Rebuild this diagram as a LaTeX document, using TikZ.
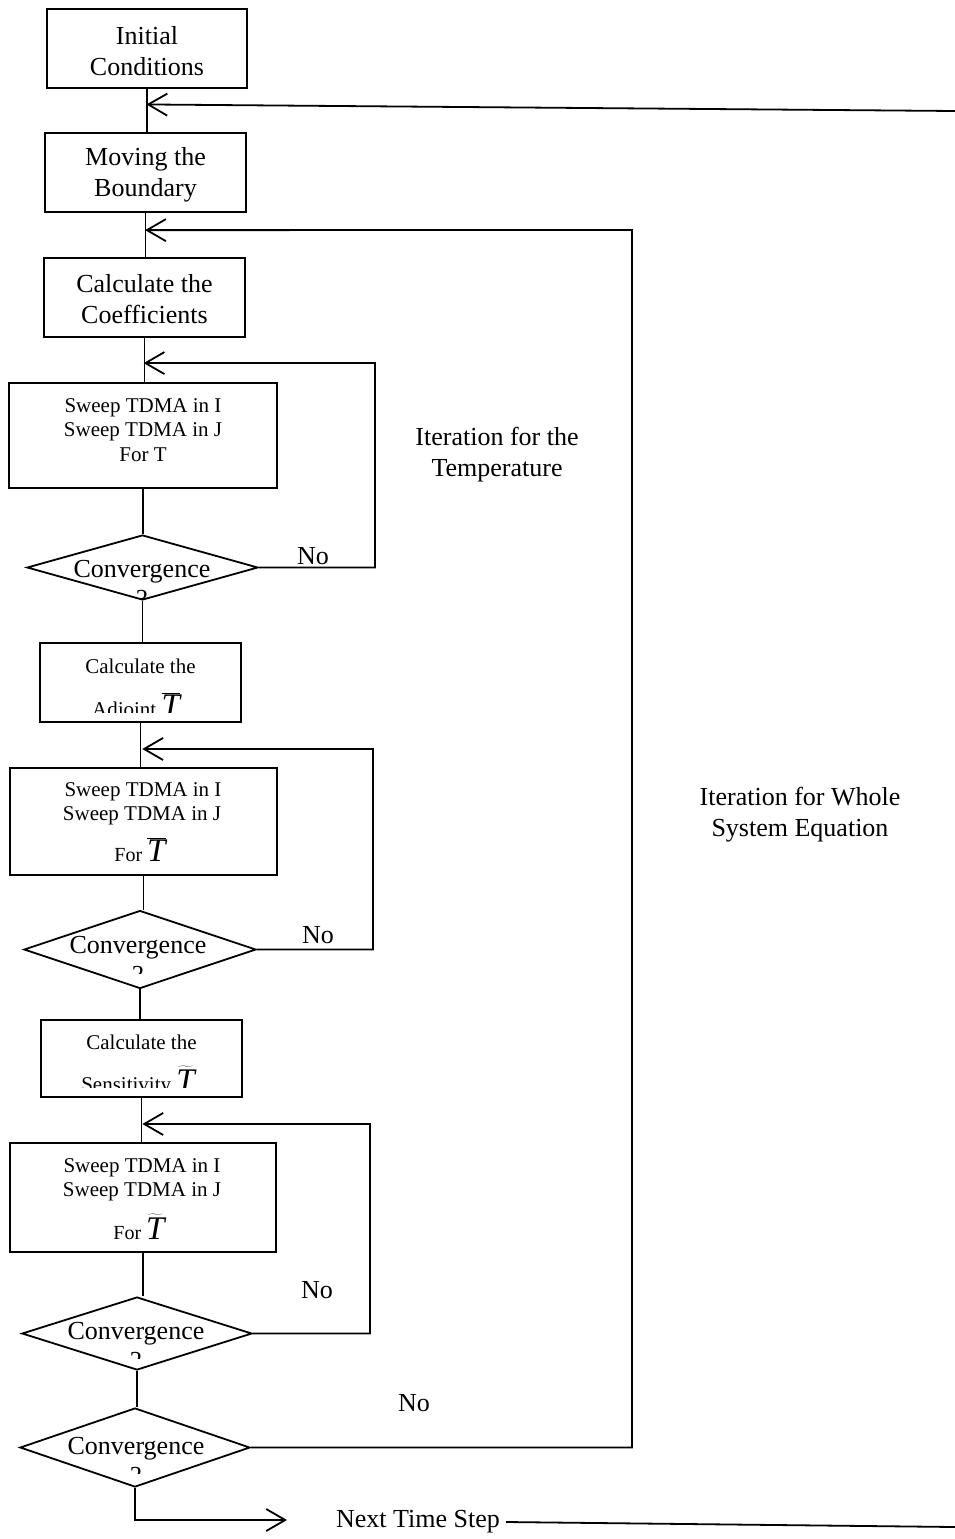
\documentclass[tikz,border=0pt]{standalone}
\usepackage{fontspec}
\setmainfont{Liberation Serif}
\usetikzlibrary{shapes.geometric,arrows.meta,calc}
\newcommand\myTbar{{\fontsize{33}{33}\selectfont$\smash{\overline{\textit{T}}}$}}
\newcommand\myTtil{{\fontsize{33}{33}\selectfont$\smash{\widetilde{\textit{T}}}$}}
\tikzset{
  box/.style={draw, line width=1.8pt, inner sep=0pt, align=center},
  dia/.style={draw, diamond, line width=1.8pt, inner sep=0pt},
  big/.style={font=\fontsize{26}{31}\selectfont},
  small/.style={font=\fontsize{21}{24.5}\selectfont},
  accent/.style={inner sep=0pt, anchor=base, font=\fontsize{20}{20}\selectfont},
  conn/.style={line width=1.8pt},
  barb/.style={conn, -{Straight Barb[length=19pt,width=22pt]}},
}
\begin{document}
\begin{tikzpicture}[x=1pt,y=-1pt]
\useasboundingbox (0,0) rectangle (955,1539);

% boxes
\node[box,minimum width=200pt,minimum height=79pt] (b1) at (147,48.5) {};
\node[big,align=center] (t1) at (147,51) {Initial\\Conditions};
\node[box,minimum width=201pt,minimum height=79pt] (b2) at (145.5,172.5) {};
\node[big,align=center] (t2) at (145.5,175) {Moving the\\Boundary};
\node[box,minimum width=201pt,minimum height=79pt] (b3) at (144.5,297.5) {};
\node[big,align=center] (t3) at (144.5,299.5) {Calculate the\\Coefficients};
\node[box,minimum width=268pt,minimum height=105pt] (b4) at (143,435.5) {};
\node[small,align=center] (t4) at (143,430) {Sweep TDMA in I\\Sweep TDMA in J\\For T};
\node[dia,minimum width=231pt,minimum height=65pt] (d1) at (142.5,567.5) {};
\node[box,minimum width=201pt,minimum height=79pt] (b5) at (140.5,682.5) {};
\node[box,minimum width=267pt,minimum height=107pt] (b6) at (143.5,821.5) {};
\node[small] (t6a) at (143,792) {Sweep TDMA in I};
\node[small] (t6b) at (142,816) {Sweep TDMA in J};
\node[accent] (t6c) at (140,861) {For \myTbar};
\node[dia,minimum width=232pt,minimum height=78pt] (d2) at (140,949.5) {};
\node[box,minimum width=201pt,minimum height=77pt] (b7) at (141.5,1058.5) {};
\node[box,minimum width=266pt,minimum height=109pt] (b8) at (143,1197.5) {};
\node[small] (t8a) at (142,1168) {Sweep TDMA in I};
\node[small] (t8b) at (142,1192) {Sweep TDMA in J};
\node[accent] (t8c) at (139,1239) {For \myTtil};
\node[dia,minimum width=230pt,minimum height=73pt] (d3) at (137,1333.5) {};
\node[dia,minimum width=230pt,minimum height=79pt] (d4) at (135,1447.5) {};

% clipped texts of box 5 and box 7
\begin{scope}
  \clip (b5.north west) rectangle ([yshift=10pt]b5.south east);
  \node[small,anchor=base] (t5a) at (140.5,673) {Calculate the};
  \node[small,anchor=base,inner sep=0pt] (t5b) at (136,716) {Adjoint \myTbar};
\end{scope}
\begin{scope}
  \clip (b7.north west) rectangle ([yshift=10.5pt]b7.south east);
  \node[small,anchor=base] (t7a) at (141.5,1049) {Calculate the};
  \node[small,anchor=base,inner sep=0pt] (t7b) at (138,1091) {Sensitivity \myTtil};
\end{scope}

% diamond texts (question mark clipped)
\begin{scope}
  \clip (0,0) rectangle (400,598);
  \node[big,anchor=base] (c1) at (142,577) {Convergence};
  \node[big,anchor=base] (q1) at (142,607) {?};
\end{scope}
\begin{scope}
  \clip (0,600) rectangle (400,973);
  \node[big,anchor=base] (c2) at (138,953) {Convergence};
  \node[big,anchor=base] (q2) at (138,983) {?};
\end{scope}
\begin{scope}
  \clip (0,1000) rectangle (400,1358);
  \node[big,anchor=base] (c3) at (136,1339) {Convergence};
  \node[big,anchor=base] (q3) at (136,1369) {?};
\end{scope}
\begin{scope}
  \clip (0,1380) rectangle (400,1473);
  \node[big,anchor=base] (c4) at (136,1454) {Convergence};
  \node[big,anchor=base] (q4) at (136,1484) {?};
\end{scope}

% vertical connectors
\draw[conn] (b1.south) -- (b1.south |- b2.north);
\draw[conn] (b2.south) -- (b2.south |- b3.north);
\draw[conn] (b3.south) -- (b3.south |- b4.north);
\draw[conn] (b4.south) -- (b4.south |- d1.north);
\draw[conn] (d1.south) -- (d1.south |- b5.north);
\draw[conn] (b5.south) -- (b5.south |- b6.north);
\draw[conn] (b6.south) -- (b6.south |- d2.north);
\draw[conn] (d2.south) -- (d2.south |- b7.north);
\draw[conn] (b7.south) -- (b7.south |- b8.north);
\draw[conn] (b8.south) -- (b8.south |- d3.north);
\draw[conn] (d3.south) -- (d3.south |- d4.north);

% junction points
\coordinate (j1) at ($(b1.south)!0.36!(b2.north)$);
\coordinate (j2) at ($(b2.south)!0.39!(b3.north)$);
\coordinate (j3) at ($(b3.south)!0.57!(b4.north)$);
\coordinate (j4) at ($(b5.south)!0.59!(b6.north)$);
\coordinate (j5) at ($(b7.south)!0.59!(b8.north)$);

% loop corners
\coordinate (r1) at (375,363);
\coordinate (r2) at (373,749);
\coordinate (r3) at (370,1124);
\coordinate (r4) at (632,230);

\draw[barb] (d1.east) -| (r1) -- (j3);
\draw[barb] (d2.east) -| (r2) -- (j4);
\draw[barb] (d3.east) -| (r3) -- (j5);
\draw[barb] (d4.east) -| (r4) -- (j2);

% next time step
\coordinate (e1) at (955,111);
\draw[barb] (e1) -- (j1);
\coordinate (a5) at (287,1520);
\draw[barb] (d4.south) |- (a5);
\node[big,inner sep=2pt] (nts) at (418,1522) {Next Time Step};
\coordinate (e2) at (955,1527);
\draw[conn] ([xshift=4pt]nts.east) -- (e2);

% labels
\node[big] (no1) at (313,556) {No};
\node[big] (no2) at (318,935) {No};
\node[big] (no3) at (317,1290) {No};
\node[big] (no4) at (414,1403) {No};
\node[big,align=center] (it1) at (497,455) {Iteration for the\\Temperature};
\node[big,align=center] (it2) at (800,815) {Iteration for Whole\\System Equation};
\end{tikzpicture}
\end{document}
